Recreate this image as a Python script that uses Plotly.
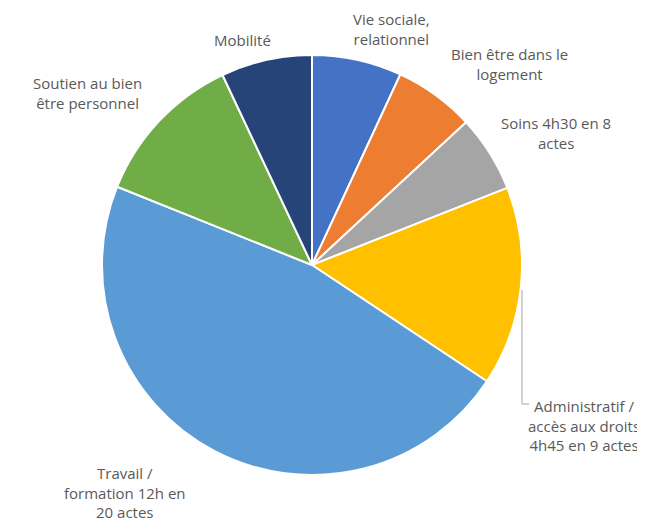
import plotly.graph_objects as go

categories = ["Vie sociale, relationnel", "Bien être dans le logement", "Soins 4h30 en 8 actes",
              "Administratif / accès aux droits 4h45 en 9 actes", "Travail / formation 12h en 20 actes",
              "Soutien au bien être personnel", "Mobilité"]
values = [6.9, 6.2, 5.9, 15.3, 46.7, 11.9, 7.0]
colors = ["#4472C4", "#ED7D31", "#A5A5A5", "#FFC000", "#5B9BD5", "#70AD47", "#264478"]

label_texts = ["Vie sociale,<br>relationnel", "Bien être dans le<br>logement", "Soins 4h30 en 8<br>actes",
               "Administratif /<br>accès aux droits<br>4h45 en 9 actes", "Travail /<br>formation 12h en<br>20 actes",
               "Soutien au bien<br>être personnel", "Mobilité"]
# label centres in page pixels (x, y from top)
label_pos = [(392, 29), (509, 64), (556, 133), (584, 425), (125, 492), (87, 93), (243, 40)]

OFF = 8  # default page body margin
W, H = 645 - OFF, 521 - OFF
cx, cy, r = 312 - OFF, 265 - OFF, 210

fig = go.Figure(go.Pie(
    labels=categories, values=values, sort=False, direction="clockwise", rotation=0,
    marker=dict(colors=colors, line=dict(color="white", width=2)),
    textinfo="none", hoverinfo="label+percent",
    domain=dict(x=[(cx - r) / W, (cx + r) / W], y=[(H - cy - r) / H, (H - cy + r) / H]),
))

for t, (px, py) in zip(label_texts, label_pos):
    fig.add_annotation(text=t, x=(px - OFF) / W, y=1 - (py - OFF) / H, xref="paper", yref="paper",
                       xanchor="center", yanchor="middle", showarrow=False,
                       font=dict(family="Open Sans", size=15, color="#595959"))

fig.add_shape(type="path", xref="paper", yref="paper",
              path=f"M {(522-OFF)/W} {1-(290-OFF)/H} L {(522-OFF)/W} {1-(404-OFF)/H} L {(529-OFF)/W} {1-(404-OFF)/H}",
              line=dict(color="#A6A6A6", width=1))

fig.update_layout(width=W, height=H, autosize=False, showlegend=False,
                  margin=dict(l=0, r=0, t=0, b=0), paper_bgcolor="white", plot_bgcolor="white")
fig.write_html("out.html")
